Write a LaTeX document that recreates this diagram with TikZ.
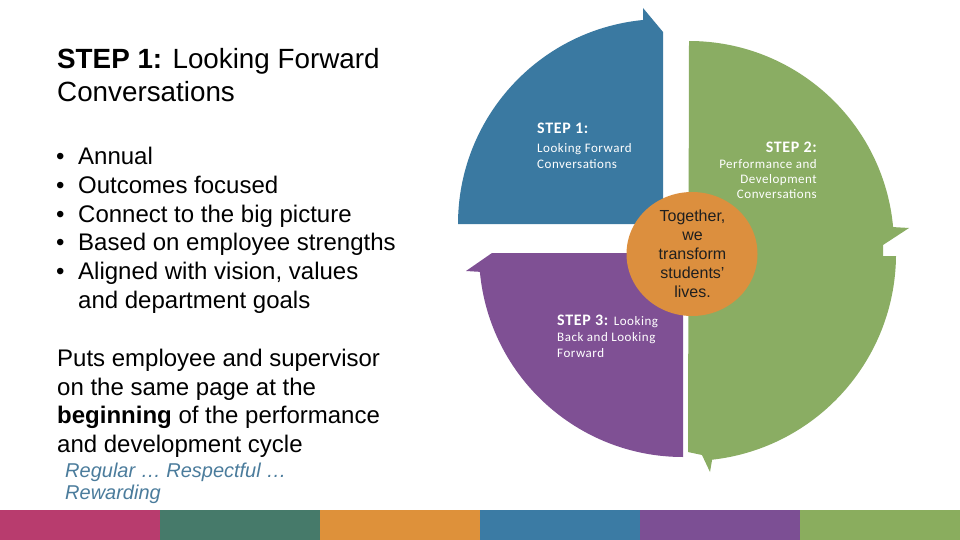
\documentclass[tikz,border=0pt]{standalone}
\usepackage{fontspec}
\setmainfont{Liberation Sans}
\newfontfamily\calfont[LetterSpace=4]{Carlito}
\usetikzlibrary{shapes.geometric}
\definecolor{cblue}{HTML}{3A79A1}
\definecolor{cgreen}{HTML}{8AAD63}
\definecolor{cpurple}{HTML}{7F5094}
\definecolor{corange}{HTML}{DC8F3E}
\definecolor{bpink}{HTML}{B83C6E}
\definecolor{bteal}{HTML}{467A6A}
\definecolor{borange}{HTML}{DE913A}
\definecolor{bblue}{HTML}{3B7BA4}
\definecolor{bpurple}{HTML}{7C4F94}
\definecolor{bgreen}{HTML}{8AAD5E}
\definecolor{italblue}{HTML}{4B7C9C}
\begin{document}
\begin{tikzpicture}[x=1pt,y=-1pt,
  titletext/.style={anchor=base west, inner sep=0pt, font=\fontsize{27.8}{33}\selectfont},
  bodytext/.style={anchor=base west, inner sep=0pt, font=\fontsize{24}{29}\selectfont},
  bulletmark/.style={anchor=base west, inner sep=0pt, font=\fontsize{24}{29}\selectfont},
  mottotext/.style={anchor=base west, inner sep=0pt, text=italblue, font=\fontsize{20}{21}\selectfont\itshape},
  stephead/.style={inner sep=0pt, text=white, font=\calfont\bfseries\fontsize{16}{18}\selectfont},
  steptext/.style={inner sep=0pt, text=white, font=\calfont\fontsize{13}{16}\selectfont},
  hubtext/.style={anchor=base, inner sep=0pt, text=black!88, font=\fontsize{16}{19}\selectfont},
  barseg/.style={draw=none, minimum width=160pt, minimum height=30pt, inner sep=0pt, anchor=north west}
]
\useasboundingbox (0,0) rectangle (960,540);
\fill[white] (0,0) rectangle (960,540);

% ---------- left text ----------
\node[titletext] (t1) at (57,68.5) {\textbf{STEP 1:} Looking Forward};
\node[titletext] (t2) at (57,101.5) {Conversations};

\foreach \i/\txt in {0/Annual,1/Outcomes focused,2/Connect to the big picture,3/Based on employee strengths,4/{Aligned with vision, values}}{
  \node[bulletmark] (bm\i) at (56,164.5+28.8*\i) {•};
  \node[bodytext] (bl\i) at (78,164.5+28.8*\i) {\txt};
}
\node[bodytext] (bl5) at (78,308.5) {and department goals};

\node[bodytext] (p1) at (57,366.5) {Puts employee and supervisor};
\node[bodytext] (p2) at (57,395.2) {on the same page at the};
\node[bodytext] (p3) at (57,423.9) {\textbf{beginning} of the performance};
\node[bodytext] (p4) at (57,452.6) {and development cycle};

\node[mottotext] (m1) at (65,477.5) {Regular … Respectful …};
\node[mottotext] (m2) at (65,499) {Rewarding};

% ---------- cycle ----------
% blue (step 1)
\fill[cblue] (663,224) -- (458,224) arc[start angle=180, end angle=264.4, radius=205]
  -- (643,8) -- (663,32) -- cycle;
% purple (step 3)
\fill[cpurple] (683,253) -- (683,457) arc[start angle=90, end angle=174.7, radius=204]
  -- (466,271) -- (492,253) -- cycle;
% green (step 2)
\fill[cgreen] (689,41) arc[start angle=270, end angle=354.7, radius=205]
  -- (909,228) -- (883,245) -- (883,256) -- (896,256)
  arc[start angle=0.55, end angle=83.6, radius=207]
  -- (710,472) -- (702,455) -- (688,452) -- cycle;

% hub
\node[ellipse, fill=corange, minimum width=131pt, minimum height=124pt, inner sep=0pt] (hub) at (692,254) {};
\node[hubtext] (h1) at (692.5,221) {Together,};
\node[hubtext] (h2) at (692.5,240.2) {we};
\node[hubtext] (h3) at (692.5,259.4) {transform};
\node[hubtext] (h4) at (692.5,278.6) {students'};
\node[hubtext] (h5) at (692.5,297.8) {lives.};

% step labels
\node[stephead, anchor=base west] (s1a) at (537,134) {STEP 1:};
\node[steptext, anchor=base west] (s1b) at (537,152.5) {Looking Forward};
\node[steptext, anchor=base west] (s1c) at (537,168.5) {Conversations};

\node[stephead, anchor=base east] (s2a) at (817,153) {STEP 2:};
\node[steptext, anchor=base east] (s2b) at (817,168.5) {Performance and};
\node[steptext, anchor=base east] (s2c) at (817,183.5) {Development};
\node[steptext, anchor=base east] (s2d) at (817,198.5) {Conversations};

\node[stephead, anchor=base west] (s3a) at (557,325.5) {STEP 3: {\mdseries\fontsize{13}{16}\selectfont Looking}};
\node[steptext, anchor=base west] (s3b) at (557,341.5) {Back and Looking};
\node[steptext, anchor=base west] (s3c) at (557,357) {Forward};

% ---------- bottom bar ----------
\node[barseg, fill=bpink]   (b1) at (0,510) {};
\node[barseg, fill=bteal]   (b2) at (160,510) {};
\node[barseg, fill=borange] (b3) at (320,510) {};
\node[barseg, fill=bblue]   (b4) at (480,510) {};
\node[barseg, fill=bpurple] (b5) at (640,510) {};
\node[barseg, fill=bgreen]  (b6) at (800,510) {};
\end{tikzpicture}
\end{document}
